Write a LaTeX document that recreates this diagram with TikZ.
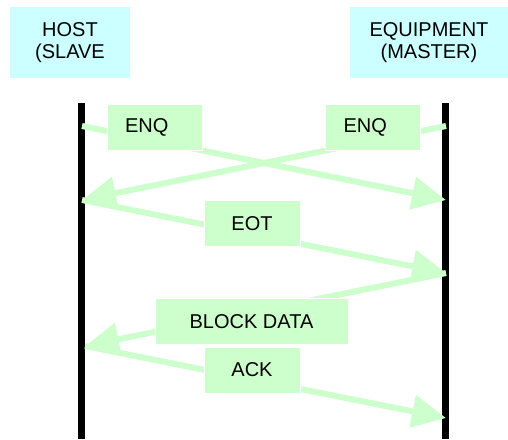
\documentclass[tikz,border=0pt]{standalone}
\usepackage{fontspec}
\setmainfont{Liberation Sans}
\usetikzlibrary{arrows.meta}
\definecolor{msggreen}{HTML}{CCFFCC}
\definecolor{hostcyan}{HTML}{CCFFFF}
\begin{document}
\begin{tikzpicture}[x=1pt,y=-1pt,
  every node/.style={font=\fontsize{20}{22.5}\selectfont},
  hdr/.style={fill=hostcyan,inner sep=0pt,align=center,minimum height=71pt},
  life/.style={line width=7pt},
  msg/.style={msggreen,line width=6pt,-{Triangle[length=34pt,width=32pt]}},
  lbl/.style={fill=msggreen,draw=white,line width=1pt,inner sep=0pt,minimum height=46pt},
  enq/.style={lbl,text width=59pt,inner xsep=18pt,align=left}]
\useasboundingbox (0,0) rectangle (508,439);
\node[hdr,minimum width=120pt] (host) at (70,42.5) {HOST\\(SLAVE};
\node[hdr,minimum width=158pt] (equip) at (429,42.5) {EQUIPMENT\\(MASTER)};
% lifelines
\coordinate (htop) at (81.5,103);
\coordinate (hbot) at (81.5,439);
\coordinate (etop) at (445.5,103);
\coordinate (ebot) at (445.5,439);
\draw[life] (htop) -- (hbot);
\draw[life] (etop) -- (ebot);
% message ends
\coordinate (h1) at (82,126);
\coordinate (h2) at (82,200);
\coordinate (h3) at (85,346);
\coordinate (e1) at (446,126);
\coordinate (e2) at (446,200);
\coordinate (e3) at (446,273);
\coordinate (e4) at (446,418);
\draw[msg] (h1) -- (e2);
\draw[msg] (e1) -- (h2);
\draw[msg] (h2) -- (e3);
\draw[msg] (e3) -- (h3);
\draw[msg] (h3) -- (e4);
% labels
\node[enq] (enqh) at (154.5,127) {ENQ};
\node[enq] (enqe) at (373,127) {ENQ};
\node[lbl,minimum width=96pt] (eot) at (252,223.5) {EOT};
\node[lbl,minimum width=193pt] (block) at (251.5,321.5) {BLOCK DATA};
\node[lbl,minimum width=96pt] (ack) at (252,370) {ACK};
\end{tikzpicture}
\end{document}
